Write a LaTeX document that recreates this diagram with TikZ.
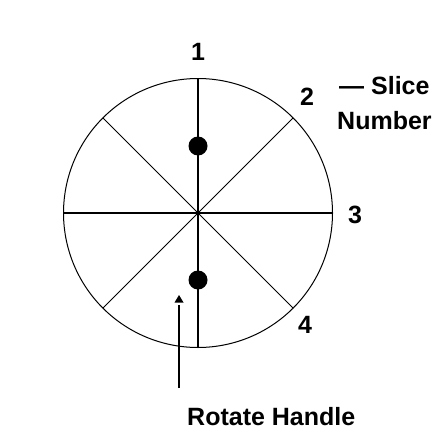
\documentclass[tikz,border=0pt]{standalone}
\usepackage{fontspec}
\setmainfont{Liberation Sans}
\begin{document}
\begin{tikzpicture}[x=1pt,y=-1pt,
  lbl/.style={inner sep=0pt,font=\fontsize{25}{30}\selectfont\bfseries},
  spoke/.style={line width=1pt},
  axis/.style={line width=2pt},
  knob/.style={circle,fill=black,minimum size=19pt,inner sep=0pt}]
\useasboundingbox (0,0) rectangle (446,444);
\node[circle,minimum size=269pt,inner sep=0pt] (C) at (198,213) {};
\draw[line width=1pt] plot[domain=0:360,samples=241,smooth=false] ({198+134.5*cos(\x)},{213+134.5*sin(\x)}) -- cycle;
% spokes
\draw[spoke] (C.north east) -- (C.south west);
\draw[spoke] (C.north west) -- (C.south east);
\draw[axis,line width=1.7pt] (C.west) -- (C.east);
\draw[axis] (C.north) -- (C.south);
% knobs
\node[knob] (k1) at (198,146) {};
\node[knob] (k2) at (198,280) {};
% slice numbers
\node[lbl,anchor=base] (n1) at (198,60) {1};
\node[lbl,anchor=base] (n2) at (307,105) {2};
\node[lbl,anchor=base] (n3) at (355,223) {3};
\node[lbl,anchor=base] (n4) at (305,333) {4};
\node[lbl,anchor=base west] (slice) at (339,94) {— Slice};
\node[lbl,anchor=base west] (number) at (337,129) {Number};
% rotate handle
\node[lbl,anchor=base west] (rh) at (187,425) {Rotate Handle};
\coordinate (hb) at (179,388);
\coordinate (ht) at (179,305);
\draw[line width=2pt] (hb) -- (ht);
\fill (179,295) -- (174.5,302.5) -- (183.5,302.5) -- cycle;
\end{tikzpicture}
\end{document}
